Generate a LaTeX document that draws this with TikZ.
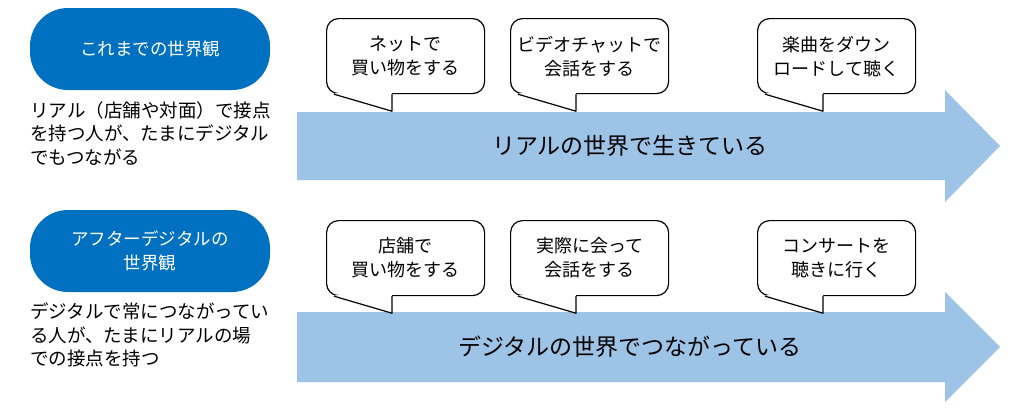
\documentclass[tikz,border=0pt]{standalone}
\usepackage{fontspec}
\setmainfont{Noto Sans CJK JP}
\usetikzlibrary{positioning}
\definecolor{pillblue}{RGB}{0,112,192}
\definecolor{arrowblue}{RGB}{157,195,230}
\tikzset{
  pill/.style={fill=pillblue, rounded corners=38pt, minimum width=240pt, minimum height=82pt,
    text=white, font=\fontsize{17.5}{24}\selectfont, align=center},
  note/.style={anchor=north west, align=left, font=\fontsize{18.5}{23.5}\selectfont, inner sep=0pt},
  bubble/.style={draw=black, fill=white, line width=1.2pt, rounded corners=12pt, anchor=north west,
    minimum width=158pt, minimum height=75pt, align=center, font=\fontsize{18}{24}\selectfont},
  flow/.style={fill=arrowblue},
  flowtext/.style={font=\fontsize{23}{26}\selectfont}
}
\newcommand{\bubbletail}[1]{%
  \fill[white] ([xshift=9pt,yshift=1pt]#1.south west) -- ([xshift=66pt,yshift=-17pt]#1.south west)
    -- ([xshift=66pt,yshift=1pt]#1.south west) -- cycle;
  \draw[line width=1.2pt, line join=round] ([xshift=8pt]#1.south west) -- ([xshift=66pt,yshift=-17pt]#1.south west)
    -- ([xshift=66pt]#1.south west);}
\begin{document}
\begin{tikzpicture}[x=1pt,y=-1pt]
\useasboundingbox (0,0) rectangle (1030,407);
\fill[white] (0,0) rectangle (1030,407);
% arrows
\fill[flow] (297,112) -- (945,112) -- (945,90) -- (1000,146) -- (945,202) -- (945,180) -- (297,180) -- cycle;
\fill[flow] (297,312) -- (945,312) -- (945,292) -- (1000,347) -- (945,402) -- (945,382) -- (297,382) -- cycle;
\node[flowtext] (flowA) at (630,146) {リアルの世界で生きている};
\node[flowtext] (flowB) at (630,347) {デジタルの世界でつながっている};
% left column
\node[pill] (oldview) at (150,49) {これまでの世界観};
\node[note] (oldnote) at (30,101) {リアル（店舗や対面）で接点\\を持つ人が、たまにデジタル\\でもつながる};
\node[pill] (newview) at (150,251) {アフターデジタルの\\世界観};
\node[note] (newnote) at (30,303) {デジタルで常につながってい\\る人が、たまにリアルの場\\での接点を持つ};
% bubbles
\node[bubble] (netbuy) at (326,18) {ネットで\\買い物をする};
\node[bubble] (videochat) at (510,18) {ビデオチャットで\\会話をする};
\node[bubble] (download) at (757,18) {楽曲をダウン\\ロードして聴く};
\node[bubble] (shopbuy) at (326,220) {店舗で\\買い物をする};
\node[bubble] (meet) at (510,220) {実際に会って\\会話をする};
\node[bubble] (concert) at (757,220) {コンサートを\\聴きに行く};
\foreach \b in {netbuy,videochat,download,shopbuy,meet,concert} {\bubbletail{\b}}
\end{tikzpicture}
\end{document}
